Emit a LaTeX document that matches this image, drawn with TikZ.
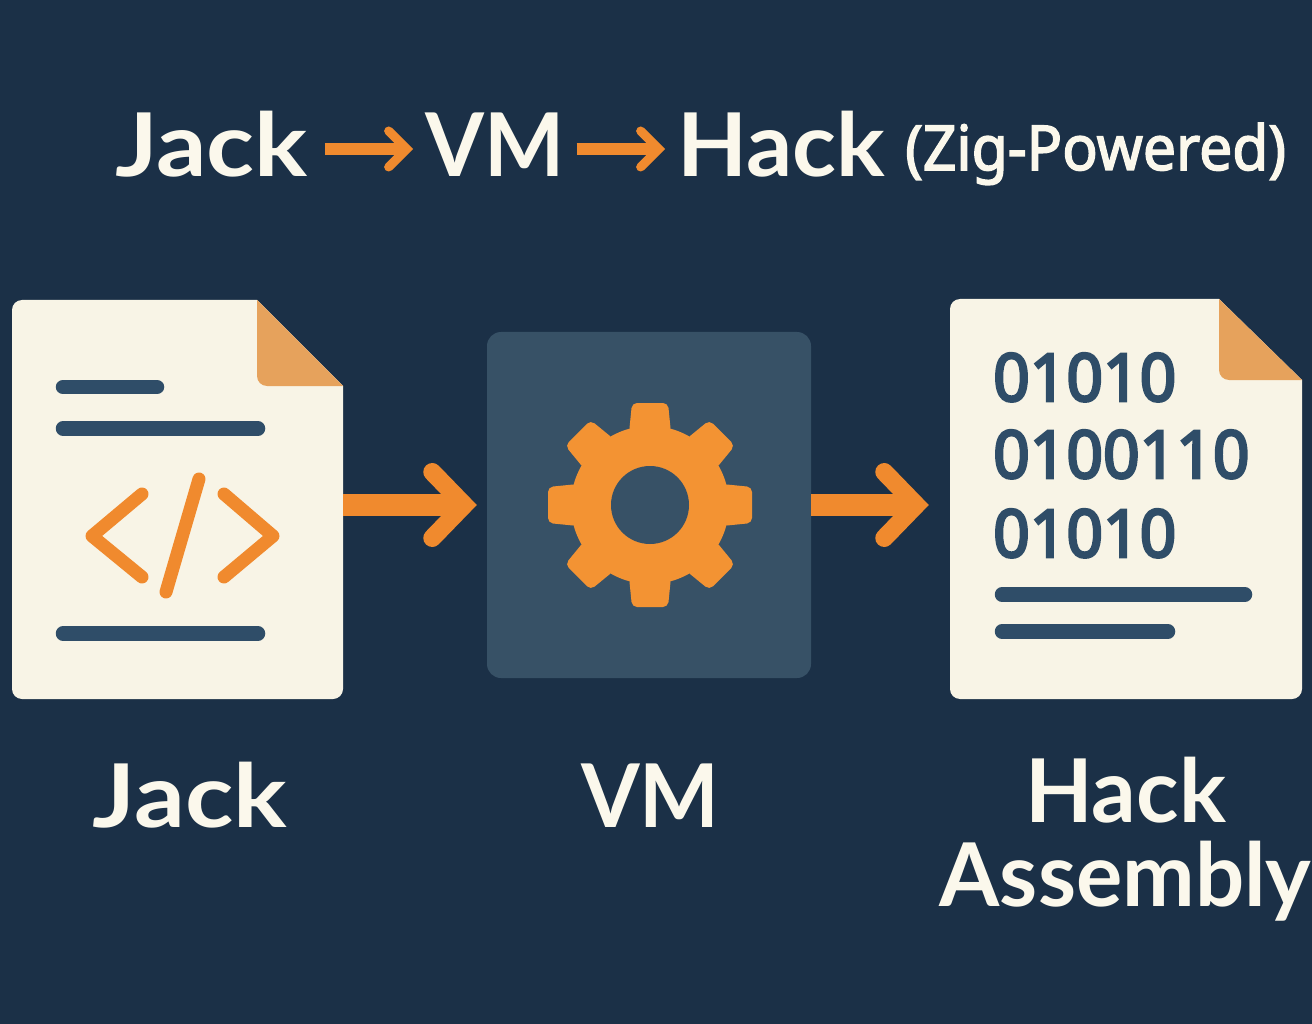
\documentclass[tikz,border=0pt]{standalone}
\usepackage{fontspec}
\setmainfont{Lato}
\newfontfamily\bitfont{Noto Sans}[FakeBold=4]
\newfontfamily\zigfont{Noto Sans}[FakeBold=2.5]
\usetikzlibrary{arrows.meta}
\definecolor{bgblue}{HTML}{1B3047}
\definecolor{paper}{HTML}{F8F4E6}
\definecolor{panelblue}{HTML}{375166}
\definecolor{inkblue}{HTML}{2F4D68}
\definecolor{flow}{HTML}{F08A2E}
\definecolor{gearorange}{HTML}{F39333}
\definecolor{foldorange}{HTML}{E6A25C}
\definecolor{titlecream}{HTML}{FBF8EC}
\begin{document}
\begin{tikzpicture}[x=1pt,y=-1pt]
	\tikzstyle{titletext} = [anchor=base west,inner sep=0,text=titlecream,text height=66pt,text depth=10pt,font=\bfseries\fontsize{88}{88}\selectfont]
	\tikzstyle{smalltitle} = [anchor=base west,inner sep=0,text=titlecream,font=\zigfont\fontsize{62}{62}\selectfont]
	\tikzstyle{caption} = [anchor=base,inner sep=0,text=titlecream,font=\bfseries\fontsize{88}{88}\selectfont]
	\tikzstyle{bits} = [anchor=base west,inner sep=0,text=inkblue,font=\bitfont\fontsize{66}{66}\selectfont]
	\tikzstyle{textline} = [draw=inkblue,line width=14.5pt,line cap=round]
	\tikzstyle{codemark} = [draw=flow,line width=13pt,line cap=round,line join=round]
	\tikzstyle{bigflow} = [draw=flow,line width=22pt,-{Straight Barb[length=32pt,width=66pt,line width=18pt,line cap=round,line join=miter]}]
	\tikzstyle{smallflow} = [draw=flow,line width=12pt,-{Straight Barb[length=18pt,width=36pt,line width=9pt,line cap=round,line join=miter]}]

	\useasboundingbox (0,0) rectangle (1312,1024);
	\fill[bgblue] (0,0) rectangle (1312,1024);

	% top line
	\node[titletext] (jacktitle) at (115,177) {\scalebox{1.13}[1]{Jack}};
	\node[titletext] (vmtitle) at (425,177) {\scalebox{.965}[1]{VM}};
	\node[titletext] (hacktitle) at (677,177) {\scalebox{1.035}[1]{Hack}};
	\node[smalltitle] (zigtitle) at (905,170) {\scalebox{.948}[1]{(Zig-Powered)}};
	\path (jacktitle.east) edge[smallflow,shorten <=17pt,shorten >=12pt] (vmtitle.west);
	\path (vmtitle.east) edge[smallflow,shorten <=12pt,shorten >=12pt] (hacktitle.west);

	% jack page
	\node[minimum width=331pt,minimum height=399pt,inner sep=0] (jackdoc) at (177.5,499.5) {};
	\fill[paper] (12,500) [rounded corners=10pt] -- (12,300) [sharp corners] -- (257,300) -- (343,386) [rounded corners=10pt] -- (343,699) -- (12,699) -- cycle;
	\fill[foldorange] (257,300) -- (343,386) [rounded corners=10pt] -- (257,386) [sharp corners] -- cycle;
	\foreach \xa/\xb/\ya in {63/157/387,63/258/428.5,63/258/633.5}
		\draw[textline] (\xa,\ya) -- (\xb,\ya);
	\draw[codemark] (142,494) -- (92,536) -- (142,577);
	\draw[codemark] (224,494) -- (273,536) -- (224,577);
	\draw[codemark] (199,479) -- (166,592);

	% vm panel
	\node[fill=panelblue,rounded corners=14pt,minimum width=324pt,minimum height=346pt,inner sep=0] (vmbox) at (649,505) {};
	\coordinate (gearmid) at (650,505);
	\fill[gearorange] (gearmid) circle (79pt);
	\foreach \ang in {0,45,...,315}
		\fill[gearorange,shift={(gearmid)},rotate=\ang,rounded corners=5pt] (-21,-72) -- (-18,-102) -- (18,-102) -- (21,-72) -- cycle;
	\fill[panelblue] (gearmid) circle (39pt);

	% hack page
	\node[minimum width=352pt,minimum height=400pt,inner sep=0] (hackdoc) at (1126,499) {};
	\fill[paper] (950,500) [rounded corners=10pt] -- (950,299) [sharp corners] -- (1219,299) -- (1302,380) [rounded corners=10pt] -- (1302,699) -- (950,699) -- cycle;
	\fill[foldorange] (1219,299) -- (1302,380) [rounded corners=10pt] -- (1219,380) [sharp corners] -- cycle;
	\node[bits] (bitsa) at (993,401) {\scalebox{.97}[1]{01010}};
	\node[bits] (bitsb) at (993,478) {\scalebox{.97}[1]{0100110}};
	\node[bits] (bitsc) at (993,557) {\scalebox{.97}[1]{01010}};
	\foreach \xa/\xb/\ya in {1002/1245/594.5,1002/1168/631.5}
		\draw[textline] (\xa,\ya) -- (\xb,\ya);

	% arrows between the three
	\path (jackdoc.east |- vmbox.center) edge[bigflow,shorten >=10pt] (vmbox.west);
	\path (vmbox.east) edge[bigflow,shorten >=21pt] (hackdoc.west |- vmbox.center);

	% captions
	\node[caption] (jacklabel) at (190,827) {\scalebox{1.14}[1]{Jack}};
	\node[caption] (vmlabel) at (650.5,827) {\scalebox{.96}[1]{VM}};
	\node[caption] (hacklabel) at (1125.5,822) {Hack};
	\node[caption] (asmlabel) at (1125.5,906) {\scalebox{.985}[1]{Assembly}};
\end{tikzpicture}
\end{document}
